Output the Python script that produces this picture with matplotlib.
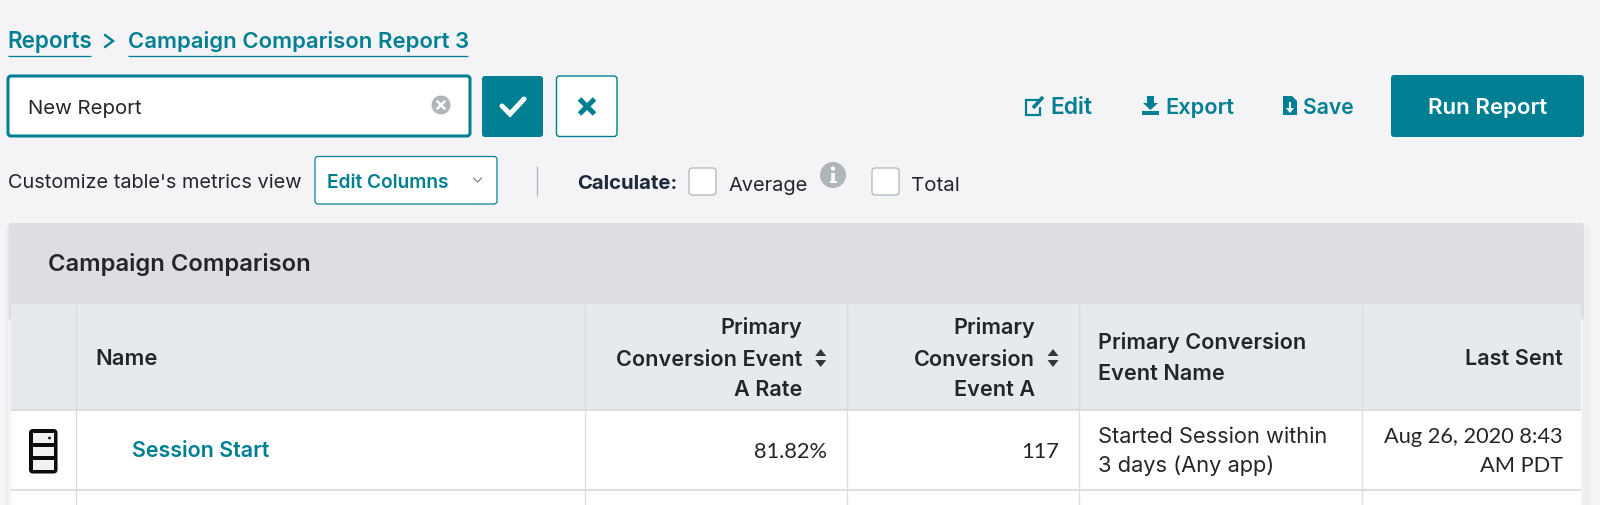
import matplotlib
matplotlib.use("Agg")
import matplotlib.pyplot as plt
from matplotlib.patches import FancyBboxPatch, Rectangle, Circle, Polygon
from matplotlib.textpath import TextPath
from matplotlib.font_manager import FontProperties

# ---- content ----
breadcrumb = ["Reports", "Campaign Comparison Report 3"]
report_name = "New Report"
toolbar_actions = ["Edit", "Export", "Save"]
run_label = "Run Report"
customize_label = "Customize table's metrics view"
dropdown_label = "Edit Columns"
calc_label = "Calculate:"
calc_options = ["Average", "Total"]
table_title = "Campaign Comparison"
col_name = "Name"
col_rate = ["Primary", "Conversion Event", "A Rate"]
col_event = ["Primary", "Conversion", "Event A"]
col_event_name = ["Primary Conversion", "Event Name"]
col_last = "Last Sent"
row_name = "Session Start"
row_rate = "81.82%"
row_count = "117"
row_event = ["Started Session within", "3 days (Any app)"]
row_sent = ["Aug 26, 2020 8:43", "AM PDT"]

TEAL = "#007f92"
DARK = "#22262b"
NAVY = "#1d2a3a"
BG = "#f4f4f7"
GREY = "#aeb6b9"
LINE = "#d9dee1"
FAMILY = "Inter"
NARROW = "Lato"

fig = plt.figure(figsize=(16, 5.05), dpi=100, facecolor=BG)
ax = fig.add_axes([0, 0, 1, 1])
ax.set_xlim(0, 1600)
ax.set_ylim(505, 0)
ax.axis("off")


def px(v):
    return v * 0.72


def fit(s, width, weight, family=FAMILY):
    fp = FontProperties(family=family, weight=weight)
    bb = TextPath((0, 0), s, size=10, prop=fp).get_extents()
    return 10 * px(width) / bb.width


def T(s, x0, x1, base, weight="normal", color=DARK, size=None):
    fs = size if size else fit(s, x1 - x0, weight)
    ax.text(x0, base, s, fontsize=fs, family=FAMILY, weight=weight, color=color,
            ha="left", va="baseline", zorder=5)
    return fs


def TR(s, x1, base, weight, color, size, family=FAMILY):
    ax.text(x1, base, s, fontsize=size, family=family, weight=weight, color=color,
            ha="right", va="baseline", zorder=5)


def box(x0, y0, x1, y1, fc, ec="none", lw=0, r=3, z=2):
    ax.add_patch(FancyBboxPatch((x0 + r, y0 + r), x1 - x0 - 2 * r, y1 - y0 - 2 * r,
                                boxstyle=f"round,pad={r},rounding_size={r}",
                                fc=fc, ec=ec, lw=px(lw), zorder=z))


def L(xs, ys, c, w, z=6, cap="round"):
    ax.plot(xs, ys, color=c, lw=px(w), solid_capstyle=cap, solid_joinstyle="miter", zorder=z)


def rect(x0, y0, x1, y1, c, z=1):
    ax.add_patch(Rectangle((x0, y0), x1 - x0, y1 - y0, fc=c, ec="none", zorder=z))


# breadcrumb
T(breadcrumb[0], 7.7, 90, 48, "semibold", TEAL)
L([8.2, 91], [56, 56], TEAL, 1.3, cap="butt")
L([105, 113, 105], [35, 41, 47], TEAL, 2.4)
T(breadcrumb[1], 127.5, 466, 48, "semibold", TEAL)
L([128, 468], [56, 56], TEAL, 1.3, cap="butt")

# name input and buttons
box(8, 76, 470, 136, "white", TEAL, 3, r=3)
T(report_name, 27.5, 139, 114, "normal", DARK)
ax.add_patch(Circle((441, 105), 9.5, fc=GREY, ec="none", zorder=5))
L([437.5, 444.5], [101.5, 108.5], "white", 2.6)
L([437.5, 444.5], [108.5, 101.5], "white", 2.6)
box(482, 76, 543, 137, TEAL)
L([502, 510, 524], [106, 114, 99], "white", 5)
box(556.5, 76, 617, 136.5, "white", TEAL, 1.4)
L([579.5, 594.5], [99, 114], TEAL, 5, cap="butt")
L([579.5, 594.5], [114, 99], TEAL, 5, cap="butt")

# toolbar actions
L([1039, 1026, 1026, 1040, 1040], [100, 100, 115, 115, 107], TEAL, 2.2, cap="butt")
L([1033, 1043], [108, 97], TEAL, 3.6, cap="butt")
T(toolbar_actions[0], 1050, 1090, 114.5, "semibold", TEAL)
ax.add_patch(Polygon([[1147, 96], [1154, 96], [1154, 103], [1158, 103], [1150.5, 110], [1143, 103], [1147, 103]],
                     fc=TEAL, ec="none", zorder=6))
rect(1142, 111, 1159, 115, TEAL, z=6)
T(toolbar_actions[1], 1165, 1232, 114.5, "semibold", TEAL)
ax.add_patch(Polygon([[1283, 96], [1292, 96], [1297, 101], [1297, 115], [1283, 115]], fc=TEAL, ec="none", zorder=6))
L([1290, 1290], [102, 110], "white", 2, z=7, cap="butt")
ax.add_patch(Polygon([[1286, 108], [1294, 108], [1290, 113]], fc="white", ec="none", zorder=7))
T(toolbar_actions[2], 1303, 1352, 114.5, "semibold", TEAL)
box(1391, 75, 1584, 137, TEAL)
T(run_label, 1428, 1545, 114.5, "semibold", "white")

# customize row
T(customize_label, 7.7, 299.5, 188, "normal", DARK)
box(315, 156.5, 497, 204, "white", TEAL, 1.2)
T(dropdown_label, 327, 446.6, 188.5, "semibold", TEAL)
L([473.5, 477.5, 481.5], [178, 182, 178], "#7f8a8f", 1.3)
L([537, 537], [166, 196], "#a9b5b8", 1.2, cap="butt")
T(calc_label, 577, 675, 189, "bold", NAVY)
box(689, 168, 716, 195, "white", "#a9b3b8", 1.2)
T(calc_options[0], 728, 806, 191, "normal", DARK)
ax.add_patch(Circle((833, 175), 13, fc=GREY, ec="none", zorder=5))
ax.add_patch(Circle((833, 168.5), 2.1, fc="white", ec="none", zorder=6))
L([833, 833], [173, 181], "white", 3.6, cap="butt")
L([829.5, 836.5], [182, 182], "white", 2, cap="butt")
box(872, 168, 899, 195, "white", "#a9b3b8", 1.2)
T(calc_options[1], 911, 957, 191, "normal", DARK)

# table
rect(6, 226, 8.4, 505, "#eeeef1", z=0)
rect(1583, 226, 1590, 505, "#eeeef1", z=0)
box(8.4, 223, 1584, 320, "#dddde2", r=3, z=1)
rect(10.7, 304, 1581, 410, "#e7eaed", z=2)
rect(10.7, 410, 1581, 505, "white", z=2)
for x in (75.5, 584.5, 846.5, 1078.7, 1362):
    L([x, x], [304, 505], LINE, 1.4, z=3, cap="butt")
L([10.7, 1581], [410, 410], LINE, 2, z=3, cap="butt")
L([10.7, 1581], [490, 490], LINE, 2, z=3, cap="butt")
T(table_title, 47.6, 307.5, 271, "semibold", DARK)
T(col_name, 95.4, 155, 365, "semibold", DARK)

hs = fit(col_rate[1], 184, "semibold")
for s, b in zip(col_rate, (334.5, 365.5, 396)):
    TR(s, 802, b, "semibold", DARK, hs)
for s, b in zip(col_event, (334.5, 365.5, 396)):
    TR(s, 1035, b, "semibold", DARK, hs)
for s, b in zip(col_event_name, (349, 380)):
    T(s, 1098, None, b, "semibold", DARK, size=hs)
TR(col_last, 1563, 365, "semibold", DARK, hs)
for x in (820.7, 1053):
    ax.add_patch(Polygon([[x - 5.5, 356], [x + 5.5, 356], [x, 349]], fc="#33383d", ec="none", zorder=6))
    ax.add_patch(Polygon([[x - 5.5, 360], [x + 5.5, 360], [x, 367]], fc="#33383d", ec="none", zorder=6))

# row
box(29, 429, 57.5, 473.5, "#0b0b0d", r=4, z=4)
for y0, y1 in ((432.5, 443), (446.5, 456), (459.5, 469.5)):
    rect(32.5, y0, 54, y1, "#f2f2f2", z=5)
ax.add_patch(Circle((49.5, 438), 1.4, fc="#0b0b0d", ec="none", zorder=6))
T(row_name, 132, 268.5, 457, "semibold", TEAL)
bs = fit(row_event[0], 227, "normal")
ns = fit(row_sent[0], 178, "normal", NARROW)
TR(row_rate, 826.6, 457.5, "normal", DARK, ns, NARROW)
TR(row_count, 1059, 457.5, "normal", DARK, ns, NARROW)
for s, b in zip(row_event, (442.7, 472.5)):
    T(s, 1098, None, b, "normal", DARK, size=bs)
for s, b in zip(row_sent, (442.7, 472.5)):
    TR(s, 1563, b, "normal", DARK, ns, NARROW)

fig.savefig("out.png", dpi=100, facecolor=BG)
